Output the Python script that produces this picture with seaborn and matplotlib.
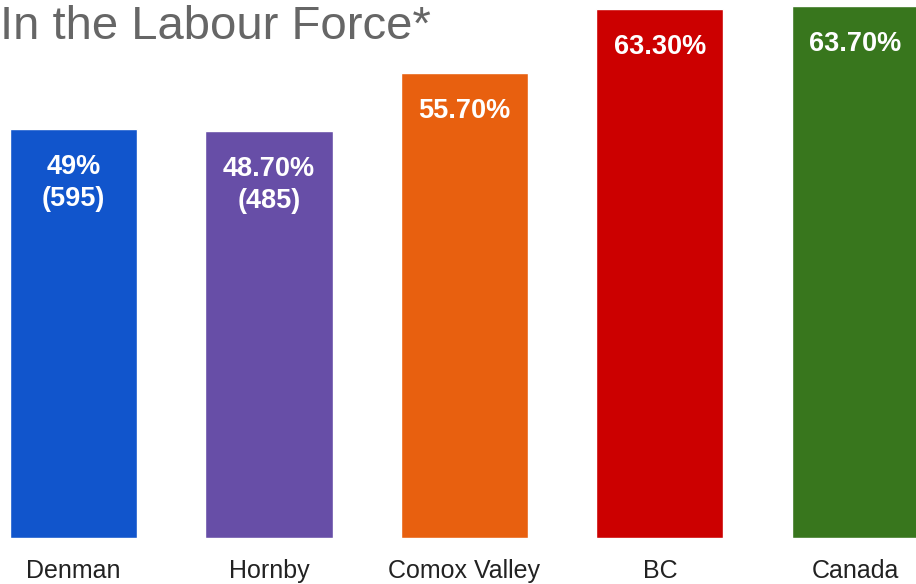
import matplotlib
matplotlib.use("Agg")
import matplotlib.pyplot as plt
import seaborn as sns
import pandas as pd

places = ["Denman", "Hornby", "Comox Valley", "BC", "Canada"]
pct = [49.0, 48.7, 55.7, 63.3, 63.7]
labels = ["49%\n(595)", "48.70%\n(485)", "55.70%", "63.30%", "63.70%"]
colours = ["#1155CC", "#674EA7", "#E8600F", "#CC0000", "#38761D"]

df = pd.DataFrame({"place": places, "pct": pct})

sns.set_style("white")
plt.rcParams["font.family"] = ["Liberation Sans", "DejaVu Sans"]

fig = plt.figure(figsize=(9.16, 5.84), dpi=100)
ax = fig.add_axes([0, 46 / 584, 1, 538 / 584])

sns.barplot(data=df, x="place", y="pct", hue="place", palette=colours,
            width=0.65, legend=False, ax=ax, saturation=1)

ax.set_xlim(-0.376, 4.31)
ax.set_ylim(0, 64.43)
ax.set_xlabel("")
ax.set_ylabel("")
ax.set_yticks([])
sns.despine(ax=ax, left=True, bottom=True, top=True, right=True)
ax.tick_params(axis="x", length=0, pad=15, labelsize=18, labelcolor="#222222")

# value labels inside the bars, near the top
for i, (v, lab) in enumerate(zip(pct, labels)):
    ax.annotate(lab, xy=(i, v), xytext=(0, -25), textcoords="offset pixels",
                ha="center", va="top", color="white", fontsize=19.5,
                fontweight="bold", linespacing=1.3)

fig.text(0.0, 1 - 39 / 584, "In the Labour Force*", fontsize=34,
         color="#666666", ha="left", va="baseline")

fig.savefig("out.png", dpi=100)
